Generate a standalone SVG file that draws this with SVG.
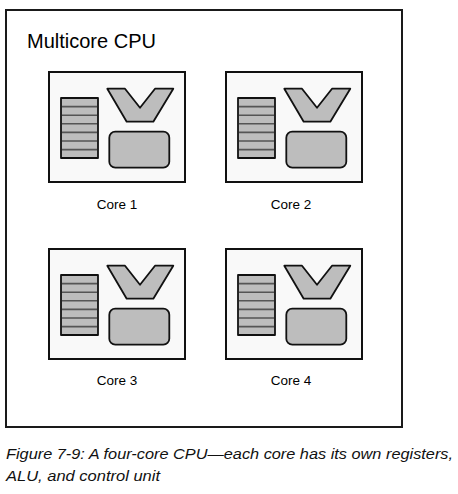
<svg xmlns="http://www.w3.org/2000/svg" xmlns:xlink="http://www.w3.org/1999/xlink" width="458" height="494" viewBox="0 0 458 494">
<style>
.frame{fill:#ffffff;stroke:#1a1a1a;stroke-width:2}
.box{fill:#f9f9f9;stroke:#111;stroke-width:2}
.part{fill:#bdbdbd;stroke:#111;stroke-width:1.8;stroke-linejoin:round}
.rline{stroke:#555;stroke-width:1.6}
.title{font-family:"Futura","Liberation Sans",sans-serif;font-size:20px;fill:#000}
.lbl{font-family:"Liberation Sans",Arial,sans-serif;font-size:13.5px;fill:#000;text-anchor:middle}
.cap{font-family:"Liberation Sans",Arial,sans-serif;font-size:15px;font-style:italic;fill:#111}
</style>
<defs>
<g id="coreArt">
<rect class="box" x="0" y="0" width="136" height="110"/>
<rect class="part" x="12" y="26" width="37" height="60" rx="0"/>
<g class="rline">
<line x1="13" y1="34.6" x2="48" y2="34.6"/>
<line x1="13" y1="43.2" x2="48" y2="43.2"/>
<line x1="13" y1="51.8" x2="48" y2="51.8"/>
<line x1="13" y1="60.4" x2="48" y2="60.4"/>
<line x1="13" y1="69" x2="48" y2="69"/>
<line x1="13" y1="77.6" x2="48" y2="77.6"/>
</g>
<polygon class="part" points="58.3,16.7 76,16.7 91,35.7 106,16.7 124.3,16.7 104.3,49.7 77.7,49.7"/>
<rect class="part" x="60.3" y="59.7" width="60" height="36" rx="6"/>
</g>
</defs>
<g id="cpu">
<rect class="frame" x="6" y="10" width="396" height="417"/>
<text class="title" x="27" y="48">Multicore CPU</text>
</g>
<g id="core1">
<use xlink:href="#coreArt" href="#coreArt" x="49" y="72"/>
<text class="lbl" x="117" y="209">Core 1</text>
</g>
<g id="core2">
<use xlink:href="#coreArt" href="#coreArt" x="226" y="72"/>
<text class="lbl" x="291" y="209">Core 2</text>
</g>
<g id="core3">
<use xlink:href="#coreArt" href="#coreArt" x="49" y="249"/>
<text class="lbl" x="117" y="385">Core 3</text>
</g>
<g id="core4">
<use xlink:href="#coreArt" href="#coreArt" x="226" y="249"/>
<text class="lbl" x="291" y="385">Core 4</text>
</g>
<g id="connectors"></g>
<g id="caption">
<text class="cap" x="6" y="459" textLength="447" lengthAdjust="spacingAndGlyphs">Figure 7-9: A four-core CPU—each core has its own registers,</text>
<text class="cap" x="6" y="481" textLength="154" lengthAdjust="spacingAndGlyphs">ALU, and control unit</text>
</g>
</svg>
